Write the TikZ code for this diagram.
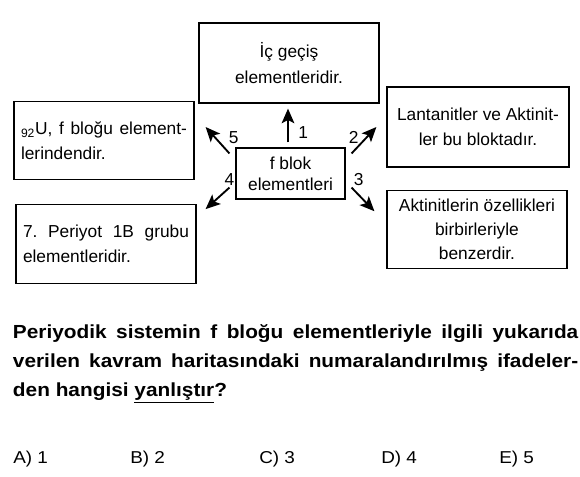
\documentclass[tikz,border=0pt]{standalone}
\usepackage{fontspec}
\setmainfont{Liberation Sans}
\newfontfamily\widesf[FakeStretch=1.1]{Liberation Sans}
\usepackage{tikz}
\usetikzlibrary{arrows.meta, positioning, calc}
\frenchspacing
\tikzset{
	mapbox/.style   ={rectangle, draw=black, line width=0.9pt, minimum width=135pt, minimum height=59pt, inner sep=2pt, align=center, font=\fontsize{13}{19}\selectfont},
	leftbox/.style  ={mapbox, text width=124.5pt, align=justify},
	centerbox/.style={mapbox, minimum width=81.75pt, minimum height=38.25pt, font=\fontsize{13}{15.5}\selectfont},
	maparrow/.style ={-{Stealth[length=11pt, width=9.5pt, inset=2.5pt]}, line width=1.4pt},
	numlbl/.style   ={font=\fontsize{13}{15}\selectfont, inner sep=1pt},
	% question and answer choices
	question/.style ={font=\widesf\bfseries\fontsize{14.2}{21.8}\selectfont, text width=424pt, align=justify, inner sep=0pt},
	choice/.style   ={font=\widesf\fontsize{12.9}{15}\selectfont, inner sep=0pt},
}

\begin{document}
\begin{tikzpicture}[x=0.75pt, y=-0.75pt]
	\useasboundingbox (0,0) rectangle (580,476);
	\node[centerbox] (fb) at (290.5,173.5) {f blok\\elementleri};
	\node[mapbox, minimum height=60pt] (ic) at (289,63) {İç geçiş\\elementleridir.};
	\node[mapbox, minimum width=136.5pt, minimum height=60pt] (lant) at (478,127) {Lantanitler ve Aktinit-\\ler bu bloktadır.};
	\node[leftbox] (ura) at (104,140.5) {\textsubscript{92}U, f bloğu element-\linebreak lerindendir.};
	\node[leftbox] (per) at (106,244) {7. Periyot 1B grubu\linebreak elementleridir.};
	\node[mapbox, minimum height=58pt, font=\fontsize{13}{18}\selectfont] (akt) at (477,229.5) {Aktinitlerin özellikleri\\birbirleriyle\\benzerdir.};
	\draw[maparrow] ($(fb.north)+(-2.5,-5)$) -- node[numlbl, right=6pt, pos=0.29] {1} ($(ic.south)+(-1,5)$);
	\draw[maparrow] ($(fb.north east)+(6,6)$) -- node[numlbl, left=4pt, pos=0.59] {2} ($(lant.west)+(-10,0)$);
	\draw[maparrow] ($(fb.south east)+(6,-12)$) -- node[numlbl, anchor=south west, pos=0] {3} ($(akt.north west)+(-12,21)$);
	\draw[maparrow] ($(fb.south west)+(-6,-12)$) -- node[numlbl, anchor=south, pos=0] {4} ($(per.north east)+(9,5)$);
	\draw[maparrow] ($(fb.north west)+(-6,6)$) -- node[numlbl, right=8.5pt, pos=0.59] {5} ($(ura.east)+(11,-13.5)$);
	\node[question, anchor=north west] (soru) at (12.7,324) {Periyodik sistemin f bloğu elementleriyle ilgili yukarıda\linebreak verilen kavram haritasındaki numaralandırılmış ifadeler-\linebreak den hangisi \underline{yanlıştır}?};
	\node[choice, anchor=base west] (ansA) at (13,463) {A) 1};
	\node[choice, anchor=base west] (ansB) at (130,463) {B) 2};
	\node[choice, anchor=base west] (ansC) at (259,463) {C) 3};
	\node[choice, anchor=base west] (ansD) at (381,463) {D) 4};
	\node[choice, anchor=base west] (ansE) at (499,463) {E) 5};
\end{tikzpicture}
\end{document}
